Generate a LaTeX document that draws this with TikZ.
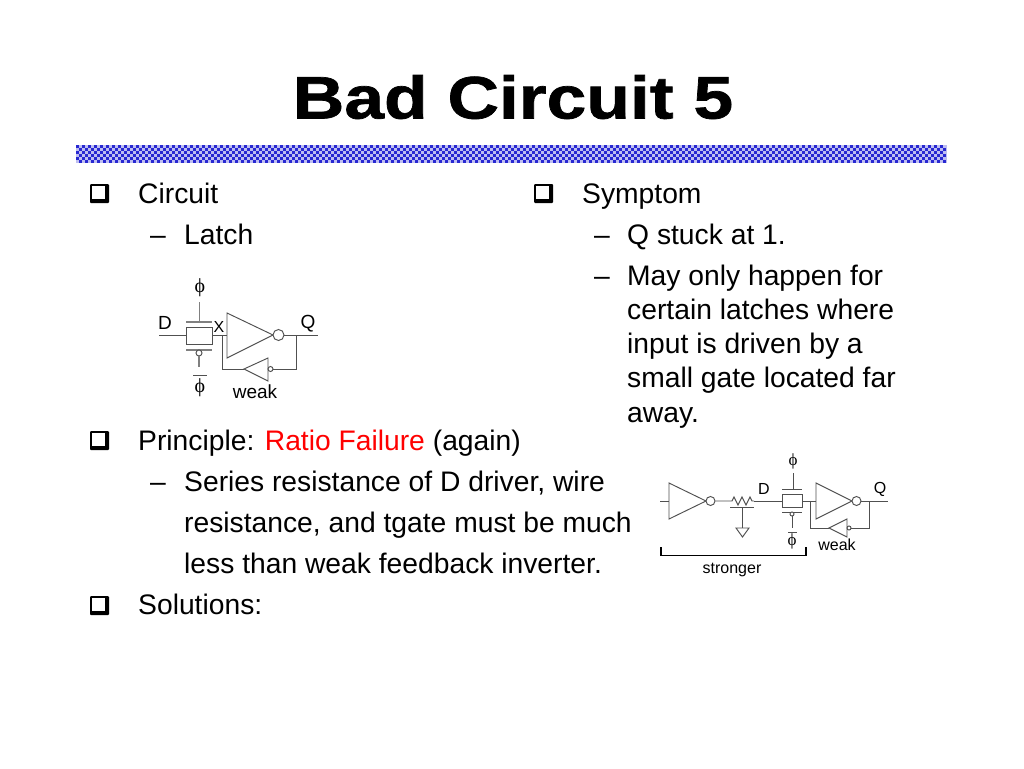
\documentclass[tikz,border=0pt]{standalone}
\usepackage{fontspec}
\setmainfont{Liberation Sans}
\newfontfamily\titlefont[BoldFeatures={FakeStretch=1.19,FakeBold=1.2}]{Liberation Sans}
\newfontfamily\symfont{Liberation Serif}
\usetikzlibrary{positioning}
\definecolor{bandblue}{RGB}{40,40,210}
\definecolor{wiregray}{RGB}{80,80,80}
\tikzset{
  bodytext/.style={anchor=base west,inner sep=0pt,font=\fontsize{28.25}{33}\selectfont},
  biglabel/.style={inner sep=0pt,font=\fontsize{19}{22}\selectfont},
  smalllabel/.style={inner sep=0pt,font=\fontsize{16}{19}\selectfont},
  wire/.style={draw=wiregray,line width=0.95pt},
  gatewire/.style={draw=gray,line width=1.2pt},
  bubble/.style={circle,draw=wiregray,line width=0.95pt,inner sep=0pt,fill=white},
  tgate/.style={rectangle,draw=wiregray,line width=1pt,inner sep=0pt,fill=white},
  pics/qbullet/.style={code={
    \fill[black,rounded corners=1pt] (0,0) rectangle (19,19);
    \fill[white] (1.8,2.2) rectangle (14.5,14.5);
  }}
}
\begin{document}
\begin{tikzpicture}[x=1pt,y=-1pt]
  \useasboundingbox (0,0) rectangle (1024,768);

  % Title
  \node[anchor=base,inner sep=0pt,font=\titlefont\bfseries\fontsize{60}{70}\selectfont] (title) at (513,118.5) {Bad Circuit 5};

  % Band
  \fill[white!70!bandblue] (76,145) rectangle (947,163);
  \foreach \row in {0,...,5}{
    \pgfmathtruncatemacro{\shift}{mod(\row,2)*3}
    \foreach \col in {0,6,...,864}{
      \fill[bandblue] (76+\col+\shift,145+3*\row) rectangle ++(3,3);
    }
  }

  % Left column
  \pic at (90,184) {qbullet};
  \node[bodytext] (circuit) at (138,203) {Circuit};
  \node[bodytext] (dasha) at (150,244) {–};
  \node[bodytext] (latch) at (184,244) {Latch};
  \pic at (90,431) {qbullet};
  \node[bodytext] (principle) at (138,450) {Principle: \textcolor{red}{Ratio Failure} (again)};
  \node[bodytext] (dashb) at (150,491) {–};
  \node[bodytext] (series) at (184,491) {Series resistance of D driver, wire};
  \node[bodytext] (resist) at (184,532) {resistance, and tgate must be much};
  \node[bodytext] (less) at (184,573) {less than weak feedback inverter.};
  \pic at (90,596) {qbullet};
  \node[bodytext] (solutions) at (138,614) {Solutions:};

  % Right column
  \pic at (534,184) {qbullet};
  \node[bodytext] (symptom) at (582,203) {Symptom};
  \node[bodytext] (dashc) at (594,244) {–};
  \node[bodytext] (stuck) at (627,244) {Q stuck at 1.};
  \node[bodytext] (dashd) at (594,285) {–};
  \node[bodytext] (may) at (627,285) {May only happen for};
  \node[bodytext] (certain) at (627,319) {certain latches where};
  \node[bodytext] (input) at (627,353) {input is driven by a};
  \node[bodytext] (small) at (627,387) {small gate located far};
  \node[bodytext] (away) at (627,422) {away.};

  % Latch
  \coordinate (dina) at (159,335);
  \node[tgate,minimum width=26pt,minimum height=17pt] (tga) at (199,335.5) {};
  \draw[gatewire] (186,322) -- (212,322);
  \draw[gatewire] (186,350) -- (212,350);
  \node[bubble,minimum size=6pt] (tgba) at (199,353) {};
  \coordinate (gatea) at (199.5,321);
  \coordinate (gateatop) at (199.5,302);
  \coordinate (gateabot) at (199,367);
  \draw[gatewire] (gateatop) -- (gatea);
  \draw[gatewire] (tgba) -- (gateabot);
  \draw[wiregray,line width=0.95pt] (193,375) -- (207,375);
  \draw[wire] (dina) -- (tga.west |- dina);
  \coordinate (inva) at (227,335);
  \coordinate (junca) at (222,335);
  \draw[wire] (tga.east |- inva) -- (inva);
  \draw[wire] (227,313) -- (273,335) -- (227,358) -- cycle;
  \node[bubble,minimum size=11pt] (bubblea) at (278.5,335) {};
  \coordinate (qa) at (318,335);
  \coordinate (fba) at (296,335);
  \draw[wire] (bubblea) -- (qa);
  \node[bubble,minimum size=5pt] (fbbubblea) at (270.5,369) {};
  \draw[wire] (268,358) -- (244,369) -- (268,381) -- cycle;
  \coordinate (fbacorner) at (296,369);
  \coordinate (fbaleft) at (222,369);
  \draw[wire] (fba) -- (fbacorner) -- (fbbubblea);
  \draw[wire] (244,369) -- (fbaleft) -- (junca);
  \node[smalllabel,font=\symfont\fontsize{20}{22}\selectfont] (phiatop) at (200,288) {ϕ};
  \node[smalllabel,font=\symfont\fontsize{20}{22}\selectfont] (phiabot) at (200,388) {ϕ};
  \node[biglabel] (da) at (165,323) {D};
  \node[biglabel,font=\fontsize{16}{19}\selectfont] (xa) at (219,327) {X};
  \node[biglabel] (qlabela) at (308,324) {Q};
  \node[biglabel] (weaka) at (255,392) {weak};

  % Driver and latch
  \coordinate (dinb) at (660,501);
  \draw[wire] (dinb) -- (669,501);
  \draw[wire] (669,483) -- (706,501) -- (669,519) -- cycle;
  \node[bubble,minimum size=9pt] (bubbled) at (710.5,501) {};
  \coordinate (resl) at (730,501);
  \coordinate (resr) at (754,501);
  \draw[wire] (bubbled) -- (resl)
    -- (732,501) -- (734,497) -- (738,505) -- (742,497) -- (746,505) -- (750,497) -- (752,501) -- (resr);
  \draw[wire] (730,507) -- (754,507);
  \draw[wire] (742.5,507) -- (742.5,528);
  \draw[wire] (736,528) -- (749,528) -- (742.5,537) -- cycle;
  \node[tgate,minimum width=20pt,minimum height=13pt] (tgb) at (792,500.5) {};
  \draw[wire] (resr) -- (tgb.west |- resr);
  \draw[wire] (782,489) -- (802,489);
  \draw[wire] (782,512) -- (802,512);
  \coordinate (gatebtop) at (793,473);
  \coordinate (gateb) at (793,489);
  \coordinate (gatebbot) at (792,528);
  \draw[wire] (gatebtop) -- (gateb);
  \node[bubble,minimum size=4pt] (tgbb) at (792,514) {};
  \draw[wire] (tgbb) -- (gatebbot);
  \draw[wire] (788,532) -- (797,532);
  \coordinate (invb) at (816,501);
  \coordinate (juncb) at (810,501);
  \draw[wire] (tgb.east |- invb) -- (invb);
  \draw[wire] (816,483) -- (852,501) -- (816,519) -- cycle;
  \node[bubble,minimum size=9pt] (bubbleb) at (856.5,501) {};
  \coordinate (qb) at (888,501);
  \coordinate (fbb) at (869,501);
  \draw[wire] (bubbleb) -- (qb);
  \node[bubble,minimum size=4pt] (fbbubbleb) at (849,528) {};
  \draw[wire] (847,519) -- (829,528) -- (847,537) -- cycle;
  \coordinate (fbbcorner) at (869,528);
  \coordinate (fbbleft) at (810,528);
  \draw[wire] (fbb) -- (fbbcorner) -- (fbbubbleb);
  \draw[wire] (829,528) -- (fbbleft) -- (juncb);
  \draw[black,line width=1.2pt] (661,547) -- (661,555.5) -- (806,555.5) -- (806,547);
  \node[smalllabel,font=\symfont\fontsize{17}{19}\selectfont] (phibtop) at (793,461) {ϕ};
  \node[smalllabel,font=\symfont\fontsize{17}{19}\selectfont] (phibbot) at (792,541) {ϕ};
  \node[smalllabel] (db) at (764,489) {D};
  \node[smalllabel] (qlabelb) at (880,489) {Q};
  \node[smalllabel] (weakb) at (837,545) {weak};
  \node[smalllabel] (stronger) at (732,570) {stronger};

\end{tikzpicture}
\end{document}
